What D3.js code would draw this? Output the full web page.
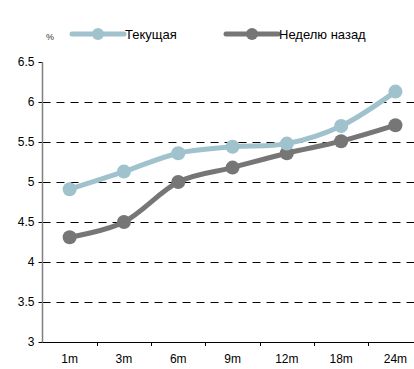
<!DOCTYPE html>
<html>
<head>
<meta charset="utf-8">
<script src="https://cdn.jsdelivr.net/npm/d3@7"></script>
<style>
  html, body { margin: 0; padding: 0; background: #fff; }
  svg { display: block; font-family: Arial, "Liberation Sans", sans-serif; }
</style>
</head>
<body>
<svg id="chart" width="414" height="369"></svg>
<script>
// Yield curve: current vs. one week ago, %
const categories = ["1m", "3m", "6m", "9m", "12m", "18m", "24m"];
const currentValues = [4.91, 5.13, 5.36, 5.44, 5.48, 5.70, 6.13];
const weekAgoValues = [4.31, 4.50, 5.00, 5.18, 5.36, 5.51, 5.71];
const yTicks = [3, 3.5, 4, 4.5, 5, 5.5, 6, 6.5];
const seriesNames = ["Текущая", "Неделю назад"];
const unitLabel = "%";

const colors = ["#a0c2cc", "#767676"];

const svg = d3.select("#chart");
const W = 414, H = 369;
const plotLeft = 42.5, plotBottom = 342, plotTop = 62;

const x = d3.scaleBand().domain(categories).range([plotLeft, plotLeft + 7 * 54.3]).padding(0);
const y = d3.scaleLinear().domain([3, 6.5]).range([plotBottom, plotTop]);

// dashed horizontal grid
svg.append("g").selectAll("line")
  .data(yTicks.filter(t => t > 3 && t < 6.5))
  .join("line")
  .attr("x1", plotLeft).attr("x2", W)
  .attr("y1", d => Math.round(y(d)) + 0.5).attr("y2", d => Math.round(y(d)) + 0.5)
  .attr("stroke", "#000").attr("stroke-width", 1)
  .attr("stroke-dasharray", "8,6");

// y axis
const yAxis = svg.append("g")
  .attr("transform", `translate(${plotLeft},0)`)
  .call(d3.axisLeft(y).tickValues(yTicks).tickSize(4).tickPadding(4)
    .tickFormat(d => String(d)));
yAxis.select(".domain").remove();
yAxis.selectAll(".tick line").attr("stroke", "#000");
yAxis.selectAll(".tick text").attr("font-size", 12).attr("fill", "#000")
  .attr("font-family", "Arial, 'Liberation Sans', sans-serif");
svg.append("line")
  .attr("x1", plotLeft).attr("x2", plotLeft).attr("y1", plotTop).attr("y2", plotBottom)
  .attr("stroke", "#7f7f7f").attr("stroke-width", 1.5);

// x axis with ticks at category boundaries
svg.append("line")
  .attr("x1", plotLeft).attr("x2", W).attr("y1", plotBottom + 0.5).attr("y2", plotBottom + 0.5)
  .attr("stroke", "#000");
svg.append("g").selectAll("line")
  .data(categories.slice(1))
  .join("line")
  .attr("x1", d => Math.round(x(d)) + 0.5).attr("x2", d => Math.round(x(d)) + 0.5)
  .attr("y1", plotBottom).attr("y2", plotBottom + 4)
  .attr("stroke", "#000");
svg.append("g").selectAll("text")
  .data(categories)
  .join("text")
  .attr("x", d => x(d) + x.bandwidth() / 2)
  .attr("y", 363)
  .attr("text-anchor", "middle")
  .attr("font-size", 12)
  .text(d => d);

// series
const series = [currentValues, weekAgoValues];
const line = d3.line()
  .x((d, i) => x(categories[i]) + x.bandwidth() / 2)
  .y(d => y(d))
  .curve(d3.curveCardinal.tension(0));

// draw older series first so the current one sits on top
[1, 0].forEach(s => {
  const g = svg.append("g");
  g.append("path")
    .attr("d", line(series[s]))
    .attr("fill", "none")
    .attr("stroke", colors[s])
    .attr("stroke-width", 5)
    .attr("stroke-linejoin", "round");
  g.selectAll("circle")
    .data(series[s])
    .join("circle")
    .attr("cx", (d, i) => x(categories[i]) + x.bandwidth() / 2)
    .attr("cy", d => y(d))
    .attr("r", 7)
    .attr("fill", colors[s]);
});

// legend
const legendX = [72, 226];
seriesNames.forEach((name, i) => {
  const lx = legendX[i];
  svg.append("line")
    .attr("x1", lx).attr("x2", lx + 52).attr("y1", 34).attr("y2", 34)
    .attr("stroke", colors[i]).attr("stroke-width", 5).attr("stroke-linecap", "round");
  svg.append("circle").attr("cx", lx + 26).attr("cy", 34).attr("r", 6).attr("fill", colors[i]);
  svg.append("text")
    .attr("x", lx + 53).attr("y", 39)
    .attr("font-size", 13)
    .text(name);
});

svg.append("text")
  .attr("x", 46).attr("y", 40)
  .attr("font-size", 9)
  .attr("fill", "#333")
  .text(unitLabel);
</script>
</body>
</html>
